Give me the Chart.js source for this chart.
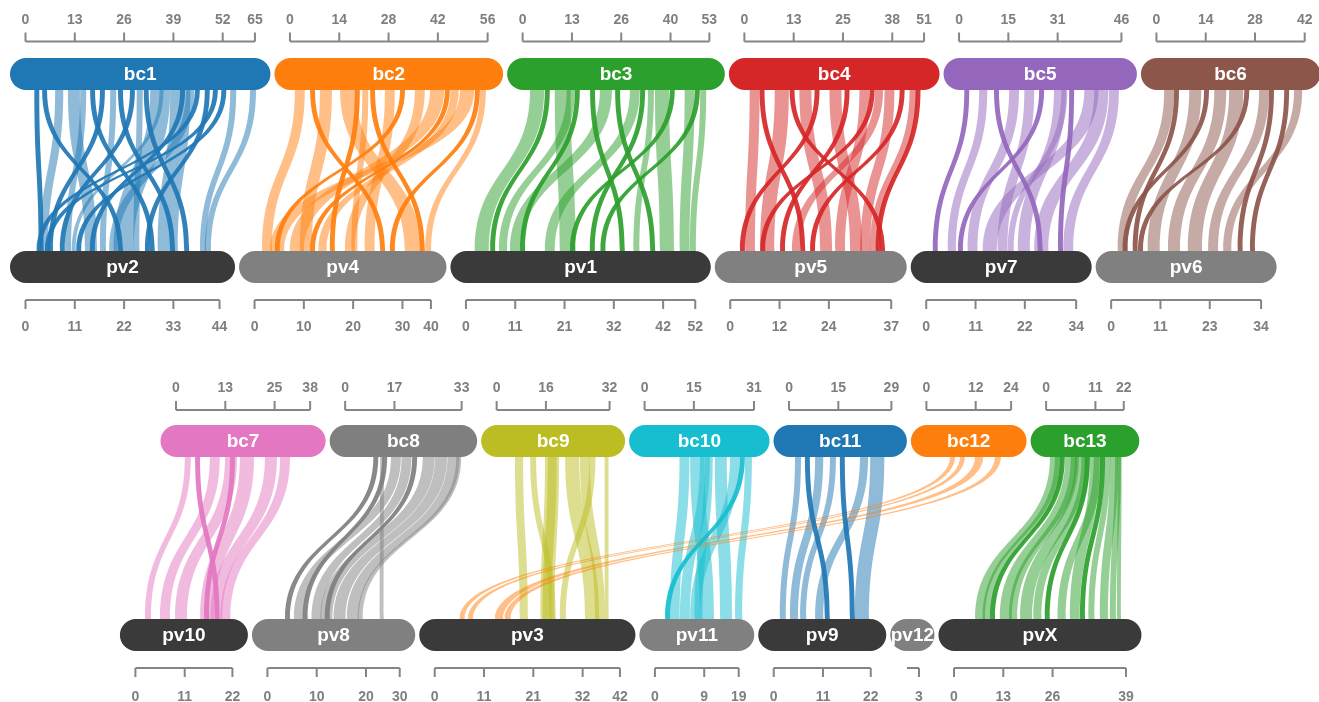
<!DOCTYPE html>
<html>
<head>
<meta charset="utf-8">
<script src="https://cdn.jsdelivr.net/npm/chart.js@4.4.1/dist/chart.umd.min.js"></script>
<style>
  html, body { margin: 0; padding: 0; background: #fff; }
</style>
</head>
<body>
<canvas id="chart" width="1319" height="702"></canvas>
<script>
// top nodes (bc) and bottom nodes (pv)
const topNodes = ['bc1', 'bc2', 'bc3', 'bc4', 'bc5', 'bc6', 'bc7', 'bc8', 'bc9', 'bc10', 'bc11', 'bc12', 'bc13'];
const topTotals = [65, 56, 52.9, 50.9, 46, 42, 38, 33, 32, 31, 29, 24, 22];
const topTicks = [
  [0, 13, 26, 39, 52, 65], [0, 14, 28, 42, 56], [0, 13, 26, 40, 53], [0, 13, 25, 38, 51],
  [0, 15, 31, 46], [0, 14, 28, 42], [0, 13, 25, 38], [0, 17, 33], [0, 16, 32],
  [0, 15, 31], [0, 15, 29], [0, 12, 24], [0, 11, 22]
];
const topColors = ['#1f77b4', '#ff7f0e', '#2ca02c', '#d62728', '#9467bd', '#8c564b', '#e377c2',
  '#7f7f7f', '#bcbd22', '#17becf', '#1f77b4', '#ff7f0e', '#2ca02c'];

const bottomNodes = ['pv2', 'pv4', 'pv1', 'pv5', 'pv7', 'pv6', 'pv10', 'pv8', 'pv3', 'pv11', 'pv9', 'pv12', 'pvX'];
const bottomTotals = [44, 40, 52, 36.5, 34, 34, 22, 30, 42, 19, 22, 3, 39];
const bottomTicks = [
  [0, 11, 22, 33, 44], [0, 10, 20, 30, 40], [0, 11, 21, 32, 42, 52], [0, 12, 24, 37],
  [0, 11, 22, 34], [0, 11, 23, 34], [0, 11, 22], [0, 10, 20, 30], [0, 11, 21, 32, 42],
  [0, 9, 19], [0, 11, 22], [3], [0, 13, 26, 39]
];
const bottomColors = ['#3a3a3a', '#808080', '#3a3a3a', '#808080', '#3a3a3a', '#808080',
  '#3a3a3a', '#808080', '#3a3a3a', '#808080', '#3a3a3a', '#808080', '#3a3a3a'];

// where every bc sends its ribbons
const bcTargets = ['pv2', 'pv4', 'pv1', 'pv5', 'pv7', 'pv6', 'pv10', 'pv8', 'pv3', 'pv11', 'pv9', 'pv3', 'pvX'];

// ribbons: [position on bc, position on pv, width, dark(1)/light(0)]
const bc1Links = [
  [2.5, 3, 1.4, 1], [4.7, 21, 1.4, 1], [8.4, 3.3, 2.3, 0], [12, 13.5, 3.4, 0], [15.5, 9, 1.7, 0],
  [18.3, 28.2, 1.4, 1], [21.1, 5.1, 1.4, 1], [24, 16.9, 1.7, 0], [26.2, 32.8, 1.4, 1],
  [29.6, 7.8, 1.4, 1], [31.5, 24.5, 1.7, 0], [33.5, 36, 1.4, 1], [35.3, 20, 5.7, 0],
  [38, 10.5, 1.1, 0], [41, 30, 5.7, 0], [43.8, 14.6, 1.4, 1], [45.5, 19, 2.3, 0],
  [48, 2.5, 1.4, 1], [50.8, 27.1, 1.4, 1], [53.1, 4.4, 1.4, 1], [55.5, 11.5, 1.4, 1],
  [58, 39.6, 1.7, 0], [63.6, 40.7, 1.7, 0]
];
const bc2Links = [
  [1.4, 1.7, 2.8, 0], [5.7, 28.5, 1.4, 1], [8.5, 10.3, 3.4, 0], [14.2, 34.1, 4.5, 0],
  [18.4, 17.1, 1.4, 1], [20.5, 22, 1.7, 0], [22.7, 37.5, 1.4, 1], [26.9, 25, 2.8, 0],
  [31.2, 4.6, 1.4, 1], [35.4, 20.5, 2.8, 0], [39.7, 8, 4, 0], [43.9, 12.6, 1.4, 1],
  [48.2, 3.5, 4, 0], [52.4, 30.7, 1.4, 1], [53.8, 38.7, 1.7, 0], [45.5, 14.5, 2.3, 0]
];
const bc3Links = [
  [2.1, 2, 4, 0], [6.3, 5.5, 1.4, 1], [9.1, 21.3, 4.5, 0], [12.5, 7.5, 2.3, 0], [14.8, 12.3, 1.4, 1],
  [19.1, 34.9, 1.4, 1], [21.9, 10, 3.4, 0], [26.2, 41.8, 1.4, 1], [30.4, 17.9, 2.8, 0],
  [33.3, 28.1, 1.4, 1], [35.5, 38, 1.7, 0], [37.5, 44, 4, 0], [41.7, 23.6, 1.4, 1],
  [45.9, 48.5, 2.8, 0], [48.8, 30.5, 1.4, 1], [50.3, 50.8, 1.7, 0]
];
const bc4Links = [
  [1.5, 3.4, 2.8, 0], [4.3, 15.9, 1.4, 1], [8.6, 6.8, 4, 0], [12.8, 34, 1.4, 1],
  [15.6, 20.4, 3.4, 0], [19.9, 2.2, 1.4, 1], [24.1, 27.2, 3.4, 0], [28.4, 11.3, 1.4, 1],
  [32.6, 23.8, 2.8, 0], [35.5, 6.8, 1.4, 1], [37, 14, 2.3, 0], [39.7, 29.5, 2.8, 0],
  [44, 18.1, 1.4, 1], [46.8, 31.7, 2.3, 0], [48.5, 33, 1.4, 1]
];
const bc5Links = [
  [1.5, 1.5, 1.4, 1], [5.7, 4.9, 2.3, 0], [9.9, 25.3, 1.4, 1], [14.2, 9.4, 2.8, 0],
  [18.5, 16.2, 2.8, 0], [22.7, 7.2, 1.4, 1], [26.9, 20.8, 3.4, 0], [31.2, 29.9, 1.4, 1],
  [35.5, 12.8, 4, 0], [38.3, 24.5, 4, 0], [42.5, 31.1, 2.8, 0], [29, 18.5, 1.7, 0]
];
const bc6Links = [
  [2.2, 1.5, 2.8, 0], [5, 4.9, 1.4, 1], [9.3, 8.3, 3.4, 0], [13.5, 2.6, 1.4, 1],
  [16.4, 12.9, 3.4, 0], [20.6, 17.4, 4, 0], [24.9, 6.1, 1.4, 1], [29.1, 22, 2.8, 0],
  [31.9, 28.7, 1.4, 1], [36.2, 31.5, 1.4, 1], [39, 25.4, 2.3, 0]
];
const bc7Links = [
  [2.5, 2.2, 1.7, 0], [5.4, 18, 1.4, 1], [9.6, 5.6, 2.8, 0], [13.9, 9, 3.4, 0],
  [15.3, 15.6, 1.4, 1], [18.1, 14.7, 4, 0], [25.2, 17, 3.4, 0], [29.5, 19.3, 2.8, 0]
];
const bc8Links = [
  [8, 4, 1.4, 1], [9.9, 25.5, 1.1, 0], [10.5, 8, 1.4, 1], [13, 6, 2.8, 0], [16, 10, 2.8, 0],
  [19, 13, 1.4, 1], [22, 12, 3.4, 0], [25.5, 15, 3.4, 0], [29, 18, 3.4, 0], [31.5, 20.5, 1.4, 0]
];
const bc9Links = [
  [5.2, 19.3, 2.3, 0], [9.5, 26.1, 1.7, 0], [13.7, 24, 4, 0], [14.5, 24.5, 2.5, 0], [19.4, 34.1, 4, 0],
  [23.6, 36.4, 2.8, 0], [26.3, 28.4, 1.7, 0], [30.6, 38.6, 1.1, 0]
];
const bc10Links = [
  [9.9, 3.4, 2.8, 0], [12.9, 10.2, 4, 0], [15.7, 5.7, 2.8, 0], [19.9, 14.8, 3.4, 0],
  [24.2, 8, 2.8, 0], [27, 2.3, 1.4, 1], [28.4, 18.2, 2, 0], [17, 9, 2.3, 0]
];
const bc11Links = [
  [1.7, 1.4, 1.7, 0], [4.5, 11.6, 1.4, 1], [7.4, 3.7, 2.3, 0], [11.6, 6, 1.7, 0],
  [14.4, 17.3, 1.4, 1], [20.1, 9.4, 2.3, 0], [23, 18.4, 4, 0]
];
const bc12Links = [
  [6.7, 5.7, 1.4, 0], [9.5, 7.6, 1.4, 0], [13.8, 13.7, 2.3, 0], [19.4, 15.9, 1.7, 0]
];
const bc13Links = [
  [1.1, 4.8, 2.8, 0], [2.5, 6.5, 2.3, 0], [3.9, 8.2, 1.4, 1], [5.4, 10.4, 3.4, 0], [7, 12.5, 2.3, 0],
  [8.2, 15, 3.4, 0], [10, 18, 2.3, 0], [11, 20.6, 1.4, 1], [12.4, 26.3, 2.8, 0], [13.5, 23.5, 2.3, 0],
  [15.3, 28.6, 1.4, 1], [16.5, 30.5, 1.7, 0], [18.1, 33.1, 2.3, 0], [19.5, 35.4, 1.7, 0],
  [20.3, 37, 1.1, 0]
];
const allLinks = [bc1Links, bc2Links, bc3Links, bc4Links, bc5Links, bc6Links, bc7Links,
  bc8Links, bc9Links, bc10Links, bc11Links, bc12Links, bc13Links];

// layout
const TOP_K = 3.53;      // px per unit on bc nodes
const BOTTOM_K = 4.41;   // px per unit on pv nodes
const PAD = 15.5;
const GAP = 4;
const TICK_STEP = 49.3;
const rows = [
  { top: [0, 6], bottom: [0, 6], topStart: 25.5, bottomStart: 25.5,
    topY: 58, bottomY: 251, topAxis: 41.5, topLabel: 20, bottomAxis: 300, bottomLabel: 327 },
  { top: [6, 13], bottom: [6, 13], topStart: 176, bottomStart: 135.4,
    topY: 425, bottomY: 619, topAxis: 410, topLabel: 388, bottomAxis: 668, bottomLabel: 697 }
];
const NODE_H = 32;

function layoutNodes(names, totals, k, range, start) {
  const out = {};
  let x = start;
  for (let i = range[0]; i < range[1]; i++) {
    const len = totals[i] * k;
    out[names[i]] = { idx: i, a0: x, len: len };
    x += len + 2 * PAD + GAP;
  }
  return out;
}

function roundRect(ctx, x, y, w, h, r) {
  ctx.beginPath();
  ctx.moveTo(x + r, y);
  ctx.lineTo(x + w - r, y);
  ctx.arc(x + w - r, y + r, r, -Math.PI / 2, Math.PI / 2);
  ctx.lineTo(x + r, y + h);
  ctx.arc(x + r, y + r, r, Math.PI / 2, Math.PI * 1.5);
  ctx.closePath();
}

function hexAlpha(hex, a) {
  const n = parseInt(hex.slice(1), 16);
  return `rgba(${n >> 16},${(n >> 8) & 255},${n & 255},${a})`;
}

const ribbonPlugin = {
  id: 'ribbons',
  afterDatasetsDraw(chart) {
    const ctx = chart.ctx;
    const xs = chart.scales.x;
    const ys = chart.scales.y;
    const px = v => xs.getPixelForValue(v);
    const py = v => ys.getPixelForValue(v);

    ctx.save();
    rows.forEach(row => {
      const topLay = layoutNodes(topNodes, topTotals, TOP_K, row.top, row.topStart);
      const botLay = layoutNodes(bottomNodes, bottomTotals, BOTTOM_K, row.bottom, row.bottomStart);
      const y1 = py(row.topY + NODE_H);
      const y2 = py(row.bottomY);
      const ym = (y1 + y2) / 2;

      // ribbons, light ones first
      [0, 1].forEach(tone => {
        for (let i = row.top[0]; i < row.top[1]; i++) {
          const src = topLay[topNodes[i]];
          const dst = botLay[bcTargets[i]];
          allLinks[i].forEach(l => {
            if (l[3] !== tone) return;
            const xa = px(src.a0 + l[0] * TOP_K);
            const wa = l[2] * TOP_K;
            const xb = px(dst.a0 + l[1] * BOTTOM_K);
            const wb = l[2] * TOP_K;
            ctx.beginPath();
            ctx.moveTo(xa, y1);
            ctx.bezierCurveTo(xa, ym, xb, ym, xb, y2);
            ctx.lineTo(xb + wb, y2);
            ctx.bezierCurveTo(xb + wb, ym, xa + wa, ym, xa + wa, y1);
            ctx.closePath();
            ctx.fillStyle = hexAlpha(topColors[i], tone ? 0.92 : 0.5);
            ctx.fill();
          });
        }
      });

      // nodes + axes
      const drawSet = (lay, names, colors, ticksArr, k, yNode, yAxis, yLabel, up) => {
        Object.keys(lay).forEach(name => {
          const n = lay[name];
          const x0 = px(n.a0 - PAD), x1 = px(n.a0 + n.len + PAD);
          roundRect(ctx, x0, py(yNode), x1 - x0, NODE_H, NODE_H / 2);
          ctx.fillStyle = colors[n.idx];
          ctx.fill();
          ctx.fillStyle = '#fff';
          ctx.font = 'bold 19px "Liberation Sans", Arial, sans-serif';
          ctx.textAlign = 'center';
          ctx.textBaseline = 'middle';
          ctx.fillText(name, (x0 + x1) / 2, py(yNode + NODE_H / 2) + 1);

          // axis
          const ticks = ticksArr[n.idx];
          const ax0 = px(n.a0), ax1 = px(n.a0 + n.len);
          const ya = py(yAxis);
          ctx.strokeStyle = '#858585';
          ctx.lineWidth = 2;
          ctx.beginPath();
          ctx.moveTo(ticks.length > 1 ? ax0 : ax1 - 12, ya);
          ctx.lineTo(ax1, ya);
          ctx.stroke();
          ctx.fillStyle = '#7f7f7f';
          ctx.font = 'bold 14px "Liberation Sans", Arial, sans-serif';
          ticks.forEach((t, j) => {
            const last = j === ticks.length - 1;
            const tx = last ? ax1 : ax0 + j * TICK_STEP;
            ctx.beginPath();
            ctx.moveTo(tx, ya);
            ctx.lineTo(tx, ya + (up ? -9 : 9));
            ctx.stroke();
            ctx.fillText(String(t), tx, py(yLabel));
          });
        });
      };
      drawSet(topLay, topNodes, topColors, topTicks, TOP_K, row.topY, row.topAxis, row.topLabel, true);
      drawSet(botLay, bottomNodes, bottomColors, bottomTicks, BOTTOM_K, row.bottomY, row.bottomAxis, row.bottomLabel, false);
    });
    ctx.restore();
  }
};

new Chart(document.getElementById('chart'), {
  type: 'scatter',
  data: { datasets: [] },
  options: {
    responsive: false,
    animation: false,
    layout: { padding: 0 },
    plugins: { legend: { display: false }, tooltip: { enabled: false } },
    scales: {
      x: { type: 'linear', min: 0, max: 1319, display: false },
      y: { type: 'linear', min: 0, max: 702, reverse: true, display: false }
    }
  },
  plugins: [ribbonPlugin]
});
</script>
</body>
</html>
